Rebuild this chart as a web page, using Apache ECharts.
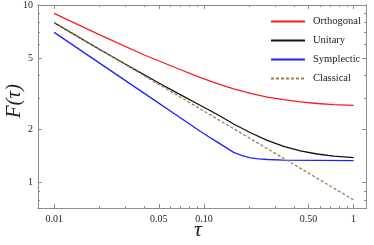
<!DOCTYPE html>
<html><head><meta charset="utf-8">
<script src="https://cdn.jsdelivr.net/npm/echarts@6/dist/echarts.min.js"></script>
<style>html,body{margin:0;padding:0;background:#fff}#c{width:374px;height:245px}</style>
</head><body><div id="c"></div>
<script>
const seriesNames = ['Orthogonal', 'Unitary', 'Symplectic', 'Classical'];
const orthTau = [0.01, 0.02, 0.04, 0.07, 0.095, 0.123, 0.158, 0.205, 0.265, 0.341, 0.441, 0.570, 0.736, 1.0];
const orthF   = [8.98, 6.81, 5.23, 4.32, 3.90, 3.61, 3.37, 3.18, 3.03, 2.93, 2.85, 2.79, 2.75, 2.72];
const uniTau  = [0.01, 0.02, 0.03, 0.04, 0.05, 0.07, 0.095, 0.123, 0.158, 0.205, 0.265, 0.341, 0.441, 0.570, 0.736, 1.0];
const uniF    = [7.95, 5.64, 4.64, 4.04, 3.64, 3.12, 2.72, 2.42, 2.14, 1.91, 1.73, 1.60, 1.51, 1.45, 1.41, 1.385];
const sympTau = [0.01, 0.04, 0.07, 0.095, 0.107, 0.123, 0.14, 0.158, 0.18, 0.205, 0.232, 0.265, 0.34, 1.0];
const sympF   = [7.01, 3.18, 2.31, 1.94, 1.82, 1.69, 1.58, 1.48, 1.42, 1.38, 1.36, 1.35, 1.34, 1.33];
const classTau = [0.01, 0.1, 1.0];
const classF   = [8.0, 2.53, 0.8];
const xMajor = [0.01, 0.05, 0.1, 0.5, 1];
const xMajorLabels = ['0.01', '0.05', '0.10', '0.50', '1'];
const xMinor = [0.02, 0.03, 0.04, 0.06, 0.07, 0.08, 0.09, 0.2, 0.3, 0.4, 0.6, 0.7, 0.8, 0.9];
const yMajor = [1, 2, 5, 10];
const yMajorLabels = ['1', '2', '5', '10'];
const yMinor = [0.8, 0.9, 3, 4, 6, 7, 8, 9];

const pairs = (xs, ys) => xs.map((x, i) => [x, ys[i]]);
const serif = 'Liberation Serif';
const frame = '#8c8c8c';
const grid = {left: 38, right: 8, top: 5, bottom: 37};
const xMin = 0.0078, xMax = 1.21, yMin = 0.72, yMax = 10;

function xAxisDef(pos, showLabel, minor) {
  return {
    type: 'log', logBase: 10, min: xMin, max: xMax, position: pos, gridIndex: 0,
    axisLine: {show: true, onZero: false, lineStyle: {color: frame, width: 1}},
    axisTick: {show: true, inside: true, length: minor ? 2 : 4, customValues: minor ? xMinor : xMajor, lineStyle: {color: frame}},
    axisLabel: {show: showLabel, customValues: xMajor, formatter: v => xMajorLabels[xMajor.findIndex(t => Math.abs(t - v) < 1e-9)] ?? '', fontFamily: serif, fontSize: 10, color: '#222', margin: 6},
    splitLine: {show: false}, minorTick: {show: false}
  };
}
function yAxisDef(pos, showLabel, minor) {
  return {
    type: 'log', logBase: 10, min: yMin, max: yMax, position: pos, gridIndex: 0,
    axisLine: {show: true, onZero: false, lineStyle: {color: frame, width: 1}},
    axisTick: {show: true, inside: true, length: minor ? 2 : 4, customValues: minor ? yMinor : yMajor, lineStyle: {color: frame}},
    axisLabel: {show: showLabel, customValues: yMajor, formatter: v => yMajorLabels[yMajor.findIndex(t => Math.abs(t - v) < 1e-9)] ?? '', fontFamily: serif, fontSize: 10, color: '#222', margin: 5},
    splitLine: {show: false}, minorTick: {show: false}
  };
}

const chart = echarts.init(document.getElementById('c'), null, {renderer: 'canvas'});
const lineSeries = (name, data, color, dashed) => ({
  name, type: 'line', data, xAxisIndex: 0, yAxisIndex: 0, symbol: 'none', smooth: false, silent: true,
  lineStyle: {color, width: 1.3, type: dashed ? [3, 2] : 'solid', join: 'round'}, itemStyle: {color}
});
chart.setOption({
  animation: false,
  grid: grid,
  xAxis: [xAxisDef('bottom', true, false), xAxisDef('bottom', false, true), xAxisDef('top', false, false), xAxisDef('top', false, true)],
  yAxis: [yAxisDef('left', true, false), yAxisDef('left', false, true), yAxisDef('right', false, false), yAxisDef('right', false, true)],
  legend: {
    orient: 'vertical', left: 265, top: 11, itemWidth: 34, itemHeight: 10, itemGap: 8,
    itemStyle: {opacity: 0},
    textStyle: {fontFamily: serif, fontSize: 10.5, color: '#222', padding: [0, 0, 0, 3]},
    data: seriesNames.map(n => ({name: n}))
  },
  series: [
    lineSeries(seriesNames[0], pairs(orthTau, orthF), '#ff1a1a', false),
    lineSeries(seriesNames[1], pairs(uniTau, uniF), '#111111', false),
    lineSeries(seriesNames[2], pairs(sympTau, sympF), '#1f1fff', false),
    lineSeries(seriesNames[3], pairs(classTau, classF), '#a87a4e', true)
  ],
  graphic: [
    {type: 'text', left: 4, top: 84, rotation: Math.PI / 2, style: {text: 'F(τ)', font: 'italic 21px "Liberation Serif"', fill: '#222'}},
    {type: 'text', left: 194, top: 219, style: {text: 'τ', font: 'italic 22px "Liberation Serif"', fill: '#222'}}
  ]
});
</script></body></html>
